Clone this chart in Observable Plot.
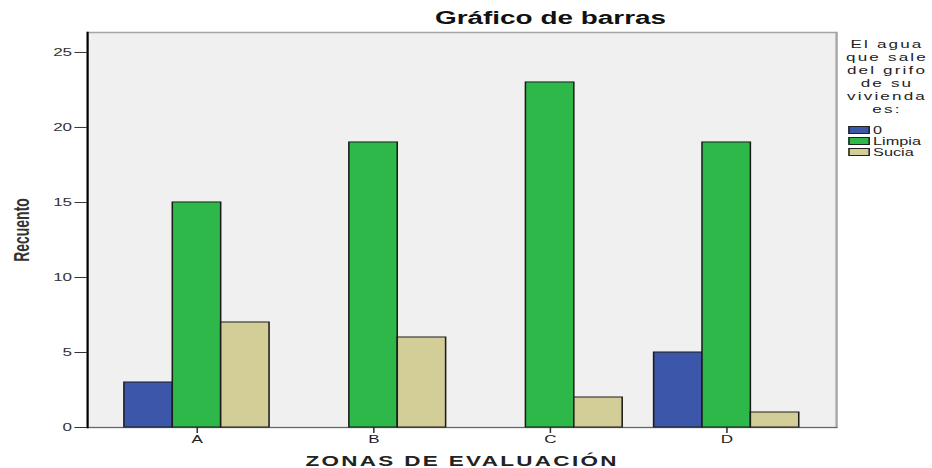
<!DOCTYPE html>
<html>
<head>
<meta charset="utf-8">
<script src="https://cdn.jsdelivr.net/npm/d3@7"></script>
<script src="https://cdn.jsdelivr.net/npm/@observablehq/plot@0.6"></script>
<style>
  html, body { margin: 0; padding: 0; background: #fff; }
  #wrap { position: relative; width: 601px; height: 468px; transform: scaleX(1.5507); transform-origin: 0 0; font-family: "Liberation Sans", Arial, sans-serif; }
  #bg, #bars { position: absolute; left: 0; top: 0; }
  #title { position: absolute; left: 355px; top: 8px; transform: translateX(-50%); font: bold 18px "Liberation Sans", Arial, sans-serif; color: #111; white-space: nowrap; }
  #legend { position: absolute; left: 541px; top: 38px; width: 62px; font-size: 11px; color: #222; }
  #legend .lt { text-align: center; line-height: 13px; letter-spacing: 1.4px; }
  #legend .item { display: flex; align-items: center; height: 11px; font-size: 10.5px; margin-left: 6px; }
  #legend .sw { width: 14px; height: 8px; border: 1px solid #222; box-sizing: border-box; margin-right: 2px; }
  #bg svg g[aria-label="y-axis label"] text { font-weight: bold; font-size: 14px; }
  #bg svg g[aria-label="x-axis label"] text { font-weight: bold; font-size: 14.5px; letter-spacing: 1.5px; }
</style>
</head>
<body>
<div id="wrap">
  <div id="bg"></div>
  <div id="bars"></div>
  <div id="title"></div>
  <div id="legend"></div>
</div>
<script>
const zones = ["A", "B", "C", "D"];
const categories = ["0", "Limpia", "Sucia"];
const counts0 = [3, 0, 0, 5];
const countsLimpia = [15, 19, 23, 19];
const countsSucia = [7, 6, 2, 1];
const colors = ["#3c56aa", "#2eb84a", "#d3ce98"];
const yTicks = [0, 5, 10, 15, 20, 25];
const titleText = "Gráfico de barras";
const xLabel = "ZONAS DE EVALUACIÓN";
const yLabel = "Recuento";
const legendTitle = ["El agua", "que sale", "del grifo", "de su", "vivienda", "es:"];

const seriesByCat = [counts0, countsLimpia, countsSucia];
const rows = zones.flatMap((z, i) => categories.map((c, j) => ({zone: z, cat: c, count: seriesByCat[j][i]})));

const common = {
  width: 601,
  height: 468,
  marginTop: 32,
  marginBottom: 41,
  marginLeft: 56,
  marginRight: 62,
  style: {fontFamily: "'Liberation Sans', Arial, sans-serif", fontSize: "11px", color: "#333", background: "transparent"}
};
const zoneBand = {type: "band", domain: zones, paddingInner: 0.178, paddingOuter: 0.21, round: false};

// background: frame, axes
const bg = Plot.plot({
  ...common,
  x: {...zoneBand},
  y: {domain: [0, 26.33]},
  marks: [
    Plot.frame({fill: "#f0f0f0", stroke: "#a5a5a5", strokeWidth: 1.5}),
    Plot.frame({anchor: "bottom", stroke: "#666"}),
    Plot.frame({anchor: "left", stroke: "#000", strokeWidth: 1.3}),
    Plot.axisY(yTicks, {tickSize: 8, tickPadding: 2, label: yLabel, labelAnchor: "center", labelArrow: "none", labelOffset: 48, fill: "#333"}),
    Plot.axisX({tickSize: 6, tickPadding: 2, label: xLabel, labelAnchor: "center", labelArrow: "none", labelOffset: 38, fill: "#222"})
  ]
});
document.getElementById("bg").appendChild(bg);

// bars: grouped by zone with fx facets
const bars = Plot.plot({
  ...common,
  fx: {...zoneBand, axis: null},
  x: {domain: categories, padding: 0, round: false, axis: null},
  y: {domain: [0, 26.33], axis: null},
  color: {domain: categories, range: colors},
  marks: [
    Plot.barY(rows, {fx: "zone", x: "cat", y: "count", fill: "cat", stroke: "#1c1c1c", strokeWidth: 1, filter: d => d.count > 0})
  ]
});
document.getElementById("bars").appendChild(bars);

document.getElementById("title").textContent = titleText;

const legend = document.getElementById("legend");
legend.innerHTML = legendTitle.map(t => `<div class="lt">${t}</div>`).join("") +
  `<div style="height:8px"></div>` +
  categories.map((c, i) => `<div class="item"><span class="sw" style="background:${colors[i]}"></span>${c}</div>`).join("");
</script>
</body>
</html>
